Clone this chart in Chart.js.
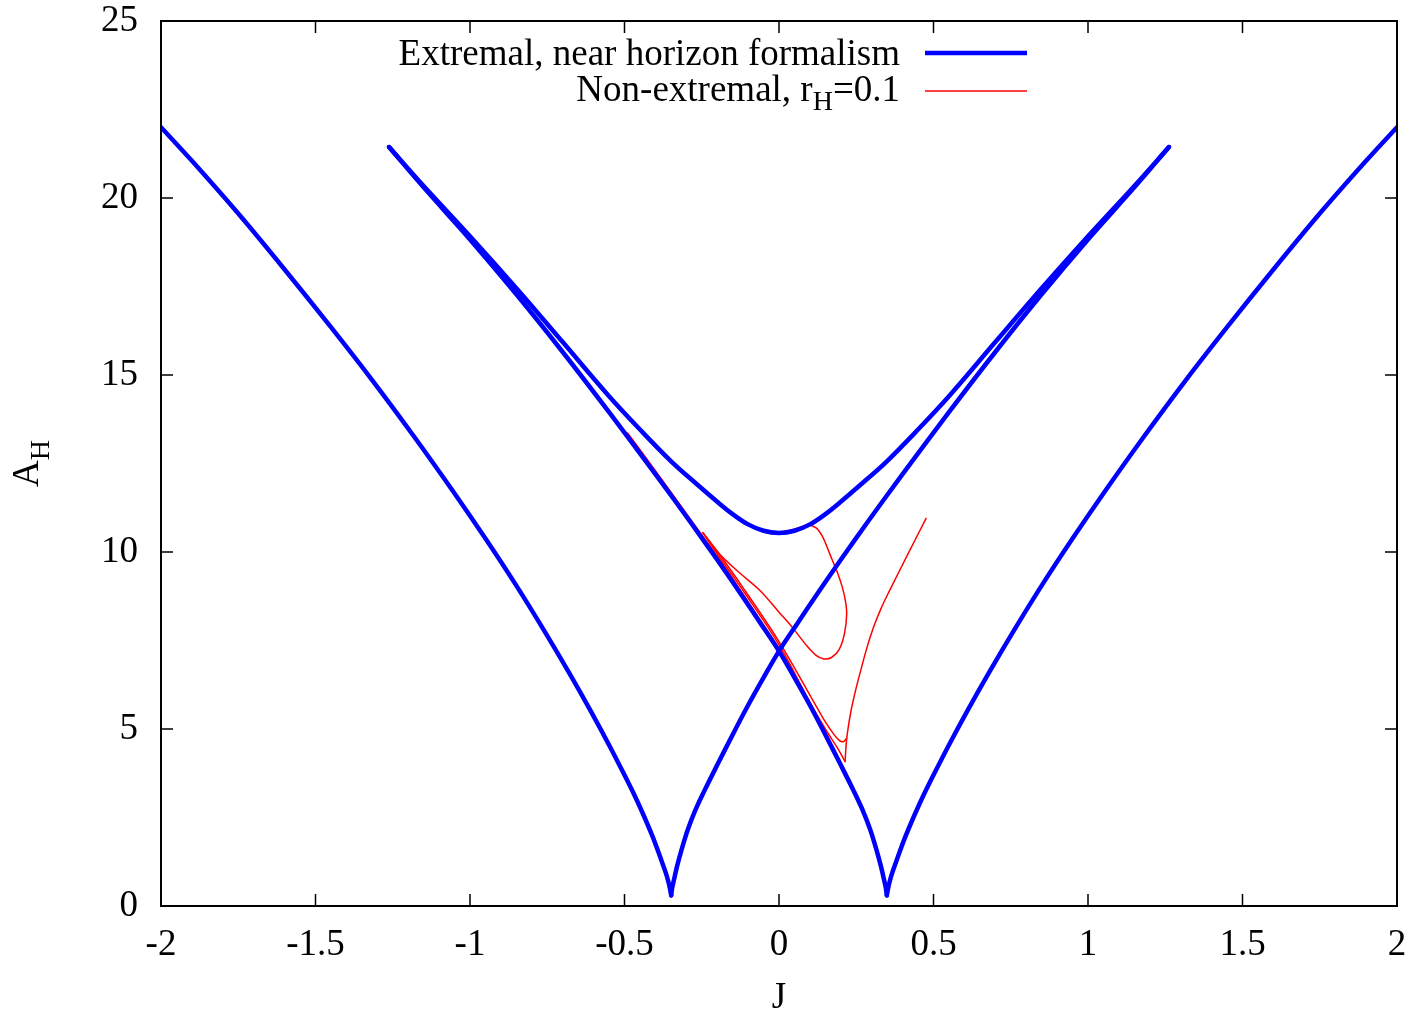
<!DOCTYPE html>
<html>
<head>
<meta charset="utf-8">
<script src="https://cdn.jsdelivr.net/npm/chart.js@4.4.1/dist/chart.umd.min.js"></script>
<style>
html,body{margin:0;padding:0;background:#ffffff;}
#wrap{width:1416px;height:1014px;position:relative;}
</style>
</head>
<body>
<div id="wrap"><canvas id="c" width="1416" height="1014"></canvas></div>
<script>
// ---------- tick labels ----------
const xTicks = [-2, -1.5, -1, -0.5, 0, 0.5, 1, 1.5, 2];
const yTicks = [0, 5, 10, 15, 20, 25];

// ---------- Extremal (blue) ----------
// outer branch, right side (mirrored for the left side): cusp -> J = 2
const outerJ = [0.349, 0.352, 0.357, 0.365, 0.375, 0.39, 0.41, 0.435, 0.465, 0.50, 0.55, 0.61, 0.68, 0.76, 0.85, 0.95, 1.06, 1.18, 1.31, 1.45, 1.60, 1.75, 1.90, 2.00];
const outerA = [0.30, 0.45, 0.65, 0.90, 1.15, 1.52, 1.98, 2.50, 3.08, 3.70, 4.55, 5.52, 6.60, 7.78, 9.05, 10.38, 11.78, 13.25, 14.78, 16.35, 17.98, 19.56, 21.05, 22.0];
// inner branch from the right cusp up to the upper-left end (mirrored for the other one)
const cuspJ = [0.349, 0.346, 0.34, 0.33, 0.315, 0.295, 0.27, 0.24, 0.20, 0.15, 0.10, 0.05, 0.0, -0.06, -0.117, -0.2, -0.288, -0.4, -0.55, -0.7, -0.85, -1.0, -1.15, -1.262];
const cuspA = [0.30, 0.50, 0.74, 1.12, 1.60, 2.16, 2.72, 3.28, 3.98, 4.84, 5.67, 6.45, 7.20, 7.99, 8.73, 9.78, 10.86, 12.2, 13.95, 15.65, 17.28, 18.83, 20.3, 21.44];
// upper branch (symmetric), J >= 0 half
const upperJ = [0, 0.05, 0.10, 0.15, 0.20, 0.26, 0.35, 0.45, 0.55, 0.70, 0.85, 1.00, 1.15, 1.262];
const upperA = [10.54, 10.60, 10.78, 11.07, 11.42, 11.87, 12.57, 13.46, 14.40, 15.93, 17.45, 18.92, 20.34, 21.44];

// ---------- Non-extremal, rH = 0.1 (red) ----------
const redOuterJ = [2.00, 1.90, 1.75, 1.60, 1.45, 1.31, 1.18, 1.06, 0.95, 0.85, 0.76, 0.68, 0.61, 0.55, 0.50, 0.465, 0.435, 0.41, 0.39, 0.375, 0.365, 0.357, 0.350];
const redOuterA = [22.0, 21.05, 19.56, 17.98, 16.35, 14.78, 13.25, 11.78, 10.38, 9.05, 7.78, 6.60, 5.52, 4.55, 3.70, 3.08, 2.50, 1.98, 1.52, 1.15, 0.90, 0.67, 0.50];
const redUpJ = [0.350, 0.347, 0.341, 0.331, 0.316, 0.297, 0.272, 0.243, 0.203, 0.153, 0.103, 0.053, 0.003, -0.057, -0.114, -0.18, -0.246, -0.30, -0.40, -0.49];
const redUpA = [0.50, 0.62, 0.80, 1.16, 1.63, 2.18, 2.74, 3.30, 4.00, 4.86, 5.69, 6.48, 7.23, 8.03, 8.78, 9.64, 10.44, 11.09, 12.30, 13.36];
const redDownCJ = [-0.246, -0.2, -0.117, 0.0, 0.1, 0.15, 0.19, 0.214];
const redDownCA = [10.54, 9.95, 8.92, 7.38, 5.76, 5.0, 4.45, 4.08];
const redRiseJ = [0.214, 0.216, 0.219, 0.225, 0.235, 0.248, 0.262, 0.283, 0.305, 0.33, 0.359, 0.413, 0.476];
const redRiseA = [4.08, 4.40, 4.72, 5.10, 5.60, 6.10, 6.57, 7.25, 7.85, 8.40, 8.93, 9.87, 10.95];
const redDownBJ = [-0.246, -0.2, -0.117, 0.0, 0.1, 0.15, 0.18, 0.195, 0.203, 0.211, 0.219];
const redDownBA = [10.54, 10.02, 9.0, 7.47, 5.96, 5.2, 4.82, 4.68, 4.64, 4.66, 4.74];
const redLoopJ = [-0.246, -0.19, -0.126, -0.06, 0.0, 0.045, 0.09, 0.12, 0.145, 0.17, 0.195, 0.212, 0.219, 0.215, 0.205, 0.19, 0.172, 0.155, 0.14, 0.12, 0.095, 0.075, 0.04, 0.003];
const redLoopA = [10.54, 9.92, 9.40, 8.90, 8.30, 7.85, 7.35, 7.08, 6.98, 7.02, 7.25, 7.70, 8.25, 8.62, 9.0, 9.4, 9.78, 10.15, 10.45, 10.68, 10.76, 10.72, 10.62, 10.55];

const seriesNames = ['Extremal, near horizon formalism', 'Non-extremal, rH=0.1'];

// ---------- helpers ----------
const BLUE = '#0000ff', RED = '#ff0000';
const FONT = "'Liberation Serif', 'Times New Roman', serif";
function pts(J, A) { return J.map((j, i) => ({ x: j, y: A[i] })); }
function neg(a) { return a.map(v => -v); }
function seg(data, color, width, label) {
  return {
    label, data,
    borderColor: color, backgroundColor: color,
    borderWidth: width, pointRadius: 0, pointHoverRadius: 0,
    showLine: true, tension: 0.35, fill: false,
    borderJoinStyle: 'round', borderCapStyle: 'round'
  };
}
const fullUpperJ = neg(upperJ).reverse().concat(upperJ.slice(1));
const fullUpperA = upperA.slice().reverse().concat(upperA.slice(1));

const BW = 4.5, RW = 1.5;
const datasets = [
  seg(pts(outerJ, outerA), BLUE, BW, seriesNames[0]),
  seg(pts(neg(outerJ), outerA), BLUE, BW, seriesNames[0]),
  seg(pts(cuspJ, cuspA), BLUE, BW, seriesNames[0]),
  seg(pts(neg(cuspJ), cuspA), BLUE, BW, seriesNames[0]),
  seg(pts(fullUpperJ, fullUpperA), BLUE, BW, seriesNames[0]),
  seg(pts(redOuterJ, redOuterA), RED, RW, seriesNames[1]),
  seg(pts(redUpJ, redUpA), RED, RW, seriesNames[1]),
  seg(pts(redDownCJ, redDownCA), RED, RW, seriesNames[1]),
  seg(pts(redRiseJ, redRiseA), RED, RW, seriesNames[1]),
  seg(pts(redDownBJ, redDownBA), RED, RW, seriesNames[1]),
  seg(pts(redLoopJ, redLoopA), RED, RW, seriesNames[1])
];

const framePlugin = {
  id: 'frame',
  afterDraw(chart) {
    const { ctx, chartArea, scales } = chart;
    const { left, right, top, bottom } = chartArea;
    const x = scales.x, y = scales.y;
    ctx.save();
    ctx.strokeStyle = '#000';
    ctx.lineWidth = 2;
    ctx.strokeRect(left, top, right - left, bottom - top);
    const L = 12;
    ctx.lineWidth = 1.5;
    ctx.beginPath();
    xTicks.forEach(v => {
      const p = x.getPixelForValue(v);
      ctx.moveTo(p, bottom); ctx.lineTo(p, bottom - L);
      ctx.moveTo(p, top); ctx.lineTo(p, top + L);
    });
    yTicks.forEach(v => {
      const p = y.getPixelForValue(v);
      ctx.moveTo(left, p); ctx.lineTo(left + L, p);
      ctx.moveTo(right, p); ctx.lineTo(right - L, p);
    });
    ctx.stroke();

    ctx.fillStyle = '#000';
    ctx.font = '37px ' + FONT;
    ctx.textAlign = 'center';
    ctx.textBaseline = 'alphabetic';
    ctx.fillText('J', (left + right) / 2, 1008);
    ctx.save();
    ctx.translate(38, 487);
    ctx.rotate(-Math.PI / 2);
    ctx.textAlign = 'left';
    ctx.font = '37px ' + FONT;
    ctx.fillText('A', 0, 0);
    const wA = ctx.measureText('A').width;
    ctx.font = '28px ' + FONT;
    ctx.fillText('H', wA, 11);
    ctx.restore();

    const tx = 900;
    ctx.textAlign = 'left';
    ctx.font = '37px ' + FONT;
    const t1 = seriesNames[0];
    const w1 = ctx.measureText(t1).width;
    ctx.fillText(t1, tx - w1, 65);
    const p1 = 'Non-extremal, r', p3 = '=0.1';
    const wp1 = ctx.measureText(p1).width, wp3 = ctx.measureText(p3).width;
    ctx.font = '28px ' + FONT;
    const wp2 = ctx.measureText('H').width;
    const sx = tx - (wp1 + wp2 + wp3);
    ctx.font = '37px ' + FONT;
    ctx.fillText(p1, sx, 101);
    ctx.font = '28px ' + FONT;
    ctx.fillText('H', sx + wp1, 110);
    ctx.font = '37px ' + FONT;
    ctx.fillText(p3, sx + wp1 + wp2, 101);
    ctx.lineCap = 'butt';
    ctx.strokeStyle = BLUE; ctx.lineWidth = BW;
    ctx.beginPath(); ctx.moveTo(925, 53); ctx.lineTo(1027, 53); ctx.stroke();
    ctx.strokeStyle = RED; ctx.lineWidth = RW;
    ctx.beginPath(); ctx.moveTo(925, 91); ctx.lineTo(1027, 91); ctx.stroke();
    ctx.restore();
  }
};

function zeroPad(s) { s.paddingTop = 0; s.paddingBottom = 0; s.paddingLeft = 0; s.paddingRight = 0; }

new Chart(document.getElementById('c'), {
  type: 'scatter',
  data: { datasets },
  options: {
    responsive: false,
    animation: false,
    devicePixelRatio: 1,
    layout: { padding: { left: 0, right: 19, top: 21, bottom: 0 } },
    plugins: { legend: { display: false }, tooltip: { enabled: false }, title: { display: false } },
    scales: {
      x: {
        type: 'linear', min: -2, max: 2,
        afterFit: s => { s.height = 108; zeroPad(s); },
        afterBuildTicks: s => { s.ticks = xTicks.map(v => ({ value: v })); },
        grid: { display: false, drawTicks: false },
        border: { display: false },
        ticks: { padding: 21, color: '#000', font: { family: FONT, size: 37, lineHeight: 1 }, callback: v => String(v), maxRotation: 0, autoSkip: false }
      },
      y: {
        type: 'linear', min: 0, max: 25,
        afterFit: s => { s.width = 161; zeroPad(s); },
        afterBuildTicks: s => { s.ticks = yTicks.map(v => ({ value: v })); },
        grid: { display: false, drawTicks: false },
        border: { display: false },
        ticks: { padding: 23, color: '#000', font: { family: FONT, size: 37, lineHeight: 1 }, callback: v => String(v), autoSkip: false }
      }
    }
  },
  plugins: [framePlugin]
});
</script>
</body>
</html>
